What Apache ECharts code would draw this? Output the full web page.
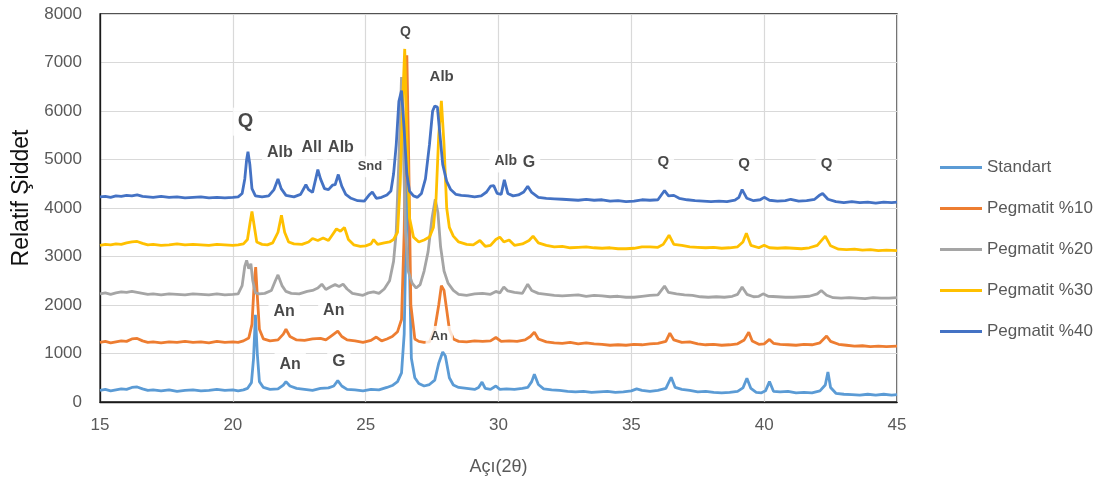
<!DOCTYPE html>
<html>
<head>
<meta charset="utf-8">
<script src="https://cdn.jsdelivr.net/npm/echarts@6/dist/echarts.min.js"></script>
<style>
html,body{margin:0;padding:0;background:#fff;}
#chart{width:1100px;height:484px;}
</style>
</head>
<body>
<div id="chart"></div>
<script>
// ---- data ----
var seriesNames = ['Standart', 'Pegmatit %10', 'Pegmatit %20', 'Pegmatit %30', 'Pegmatit %40'];
var xTicks = [15, 20, 25, 30, 35, 40, 45];
var yTicks = [0, 1000, 2000, 3000, 4000, 5000, 6000, 7000, 8000];

var standart = [[15.0,240],[15.2,260],[15.4,230],[15.6,250],[15.8,270],[16.0,260],[16.2,300],[16.4,310],[16.6,270],[16.8,240],[17.0,250],[17.3,230],[17.6,250],[17.9,220],[18.2,240],[18.5,250],[18.8,230],[19.1,240],[19.4,260],[19.7,240],[20.0,250],[20.2,230],[20.4,250],[20.55,280],[20.7,400],[20.78,900],[20.85,1800],[20.92,1000],[21.0,420],[21.15,300],[21.4,260],[21.7,270],[21.9,350],[22.0,420],[22.15,330],[22.4,280],[22.7,260],[23.0,240],[23.3,280],[23.6,290],[23.8,330],[23.95,440],[24.1,330],[24.3,260],[24.6,250],[24.9,230],[25.2,260],[25.5,250],[25.8,300],[26.0,340],[26.2,420],[26.35,600],[26.45,1400],[26.52,3500],[26.58,5600],[26.64,3000],[26.72,900],[26.85,500],[27.0,380],[27.2,330],[27.4,360],[27.6,450],[27.75,800],[27.9,1030],[28.0,950],[28.15,500],[28.3,350],[28.5,300],[28.8,280],[29.1,260],[29.25,300],[29.38,410],[29.5,280],[29.7,260],[29.9,330],[30.05,260],[30.3,270],[30.6,260],[30.9,280],[31.1,300],[31.25,420],[31.35,570],[31.5,360],[31.7,270],[32.0,250],[32.3,240],[32.6,220],[32.9,210],[33.2,220],[33.5,200],[33.8,210],[34.1,220],[34.4,200],[34.7,210],[35.0,230],[35.2,270],[35.4,240],[35.7,220],[36.0,240],[36.3,280],[36.5,510],[36.65,300],[36.9,260],[37.2,240],[37.5,210],[37.8,220],[38.1,200],[38.4,190],[38.7,200],[39.0,220],[39.2,290],[39.35,490],[39.5,280],[39.7,200],[39.9,190],[40.05,230],[40.2,420],[40.35,220],[40.6,210],[40.9,220],[41.2,190],[41.5,200],[41.8,190],[42.1,230],[42.3,350],[42.4,620],[42.5,300],[42.7,180],[43.0,160],[43.3,150],[43.6,140],[43.9,160],[44.2,140],[44.5,160],[44.8,140],[45.0,150]];

var pegmatit10 = [[15.0,1230],[15.2,1250],[15.4,1220],[15.6,1240],[15.8,1260],[16.0,1250],[16.2,1300],[16.4,1310],[16.6,1260],[16.8,1230],[17.0,1240],[17.3,1220],[17.6,1240],[17.9,1230],[18.2,1250],[18.5,1230],[18.8,1240],[19.1,1220],[19.4,1250],[19.7,1230],[20.0,1240],[20.2,1230],[20.4,1260],[20.6,1320],[20.72,1600],[20.8,2400],[20.86,2780],[20.92,2200],[21.0,1500],[21.15,1300],[21.4,1260],[21.7,1280],[21.9,1400],[22.0,1500],[22.15,1350],[22.4,1280],[22.7,1270],[23.0,1300],[23.3,1310],[23.5,1280],[23.7,1360],[23.95,1460],[24.1,1350],[24.3,1280],[24.6,1260],[24.9,1230],[25.2,1270],[25.4,1340],[25.6,1260],[25.8,1300],[26.0,1350],[26.2,1450],[26.35,1700],[26.45,3500],[26.55,7150],[26.62,5000],[26.7,2000],[26.85,1300],[27.0,1250],[27.2,1230],[27.4,1240],[27.6,1500],[27.75,2000],[27.85,2400],[27.95,2300],[28.05,1900],[28.15,1500],[28.3,1300],[28.5,1250],[28.8,1240],[29.1,1260],[29.4,1250],[29.7,1260],[29.9,1330],[30.1,1250],[30.4,1260],[30.7,1250],[31.0,1280],[31.2,1350],[31.35,1440],[31.5,1300],[31.8,1240],[32.1,1220],[32.4,1210],[32.7,1230],[33.0,1200],[33.3,1220],[33.6,1200],[33.9,1190],[34.2,1170],[34.5,1180],[34.8,1170],[35.1,1190],[35.4,1180],[35.7,1200],[36.0,1210],[36.3,1250],[36.45,1420],[36.6,1280],[36.9,1230],[37.2,1240],[37.5,1200],[37.8,1180],[38.1,1190],[38.4,1170],[38.7,1180],[39.0,1200],[39.25,1280],[39.42,1440],[39.55,1260],[39.8,1190],[40.0,1200],[40.2,1290],[40.35,1210],[40.6,1190],[40.9,1180],[41.2,1170],[41.5,1190],[41.8,1180],[42.1,1220],[42.35,1360],[42.5,1250],[42.8,1190],[43.1,1170],[43.4,1150],[43.7,1160],[44.0,1140],[44.3,1150],[44.6,1140],[45.0,1150]];

var pegmatit20 = [[15.0,2230],[15.2,2250],[15.4,2220],[15.6,2250],[15.8,2270],[16.0,2260],[16.2,2280],[16.4,2260],[16.6,2240],[16.8,2220],[17.0,2230],[17.3,2210],[17.6,2230],[17.9,2220],[18.2,2210],[18.5,2230],[18.8,2220],[19.1,2210],[19.4,2230],[19.7,2210],[20.0,2220],[20.2,2230],[20.35,2400],[20.45,2800],[20.52,2920],[20.6,2750],[20.68,2850],[20.75,2500],[20.85,2250],[21.0,2230],[21.2,2240],[21.45,2300],[21.6,2500],[21.7,2620],[21.85,2400],[22.0,2280],[22.2,2240],[22.5,2230],[22.8,2280],[23.0,2300],[23.2,2350],[23.35,2430],[23.5,2320],[23.7,2380],[23.85,2420],[24.0,2380],[24.15,2430],[24.3,2330],[24.5,2240],[24.7,2220],[24.9,2200],[25.1,2250],[25.3,2270],[25.5,2240],[25.7,2330],[25.9,2500],[26.05,2900],[26.15,3500],[26.25,5000],[26.35,6700],[26.42,5200],[26.5,3500],[26.6,2700],[26.75,2450],[26.9,2350],[27.05,2420],[27.2,2700],[27.35,3100],[27.5,3800],[27.62,4180],[27.72,3900],[27.82,3200],[27.95,2700],[28.1,2450],[28.3,2300],[28.5,2220],[28.8,2200],[29.1,2230],[29.4,2240],[29.7,2220],[29.9,2280],[30.05,2250],[30.2,2370],[30.35,2290],[30.6,2260],[30.9,2240],[31.1,2430],[31.25,2300],[31.5,2240],[31.8,2220],[32.1,2200],[32.4,2190],[32.7,2200],[33.0,2210],[33.3,2180],[33.6,2200],[33.9,2190],[34.2,2170],[34.5,2180],[34.8,2160],[35.1,2160],[35.4,2180],[35.7,2200],[36.0,2210],[36.25,2390],[36.4,2260],[36.7,2230],[37.0,2210],[37.3,2200],[37.6,2170],[37.9,2160],[38.2,2170],[38.5,2160],[38.8,2180],[39.0,2220],[39.17,2370],[39.35,2220],[39.6,2170],[39.8,2180],[39.96,2230],[40.15,2180],[40.5,2170],[40.8,2160],[41.1,2160],[41.4,2170],[41.7,2180],[42.0,2230],[42.15,2300],[42.35,2200],[42.6,2150],[42.9,2140],[43.2,2150],[43.5,2140],[43.8,2130],[44.1,2150],[44.4,2140],[44.7,2140],[45.0,2150]];

var pegmatit30 = [[15.0,3230],[15.2,3250],[15.4,3240],[15.6,3260],[15.8,3250],[16.0,3280],[16.2,3300],[16.4,3310],[16.6,3270],[16.8,3240],[17.0,3250],[17.3,3230],[17.6,3240],[17.9,3260],[18.2,3240],[18.5,3250],[18.8,3240],[19.1,3230],[19.4,3250],[19.7,3240],[20.0,3230],[20.2,3240],[20.4,3260],[20.55,3350],[20.65,3700],[20.72,3930],[20.8,3650],[20.9,3300],[21.1,3250],[21.3,3240],[21.5,3280],[21.7,3500],[21.83,3850],[21.95,3500],[22.1,3300],[22.3,3260],[22.6,3250],[22.85,3300],[23.0,3370],[23.2,3330],[23.4,3380],[23.6,3330],[23.75,3450],[23.9,3570],[24.05,3520],[24.2,3600],[24.35,3350],[24.55,3240],[24.8,3210],[25.0,3220],[25.2,3260],[25.3,3350],[25.45,3250],[25.7,3280],[25.9,3300],[26.05,3350],[26.2,3500],[26.3,4500],[26.4,6300],[26.47,7280],[26.55,5500],[26.65,3800],[26.8,3400],[27.0,3300],[27.2,3340],[27.4,3400],[27.55,3600],[27.65,4200],[27.75,5500],[27.85,6210],[27.95,5300],[28.05,4000],[28.15,3600],[28.3,3420],[28.5,3300],[28.8,3250],[29.05,3240],[29.3,3330],[29.5,3210],[29.7,3230],[29.9,3350],[30.05,3400],[30.2,3300],[30.4,3340],[30.6,3230],[30.9,3260],[31.15,3330],[31.3,3420],[31.5,3280],[31.8,3230],[32.1,3200],[32.4,3210],[32.7,3180],[33.0,3190],[33.3,3200],[33.6,3180],[33.9,3170],[34.2,3180],[34.5,3160],[34.8,3160],[35.1,3170],[35.4,3200],[35.7,3200],[36.0,3190],[36.2,3250],[36.42,3440],[36.6,3250],[36.9,3230],[37.2,3200],[37.5,3190],[37.8,3180],[38.1,3190],[38.4,3170],[38.7,3180],[39.0,3200],[39.2,3300],[39.33,3480],[39.5,3230],[39.8,3180],[40.0,3230],[40.2,3180],[40.5,3170],[40.8,3180],[41.1,3170],[41.4,3160],[41.7,3180],[42.0,3230],[42.3,3420],[42.5,3220],[42.8,3150],[43.1,3140],[43.4,3150],[43.7,3130],[44.0,3140],[44.3,3120],[44.6,3130],[45.0,3120]];

var pegmatit40 = [[15.0,4230],[15.2,4240],[15.4,4220],[15.6,4250],[15.8,4240],[16.0,4260],[16.2,4250],[16.4,4270],[16.6,4240],[16.8,4230],[17.0,4220],[17.3,4240],[17.6,4220],[17.9,4230],[18.2,4210],[18.5,4220],[18.8,4230],[19.1,4210],[19.4,4220],[19.7,4210],[20.0,4220],[20.2,4230],[20.35,4300],[20.45,4600],[20.52,5000],[20.57,5160],[20.64,4900],[20.72,4400],[20.85,4250],[21.1,4230],[21.35,4250],[21.55,4380],[21.7,4600],[21.82,4400],[22.0,4260],[22.3,4230],[22.55,4280],[22.75,4480],[22.85,4380],[23.0,4320],[23.12,4600],[23.2,4790],[23.3,4600],[23.45,4400],[23.6,4380],[23.75,4470],[23.85,4480],[23.97,4690],[24.1,4450],[24.25,4280],[24.45,4200],[24.7,4150],[24.95,4140],[25.15,4280],[25.25,4330],[25.4,4200],[25.6,4220],[25.8,4270],[25.95,4350],[26.05,4700],[26.15,5300],[26.25,6200],[26.35,6420],[26.45,5600],[26.55,4700],[26.65,4350],[26.8,4250],[26.95,4220],[27.1,4300],[27.25,4600],[27.4,5300],[27.52,6000],[27.6,6100],[27.7,6080],[27.78,5600],[27.9,4900],[28.05,4550],[28.2,4380],[28.4,4280],[28.6,4260],[28.85,4250],[29.1,4230],[29.35,4250],[29.55,4330],[29.7,4450],[29.82,4460],[29.95,4300],[30.1,4280],[30.22,4580],[30.35,4300],[30.55,4250],[30.75,4270],[30.95,4330],[31.1,4450],[31.25,4320],[31.5,4220],[31.8,4200],[32.1,4190],[32.4,4180],[32.7,4170],[33.0,4160],[33.3,4180],[33.6,4160],[33.9,4170],[34.2,4140],[34.5,4150],[34.8,4130],[35.1,4140],[35.4,4170],[35.7,4160],[36.0,4170],[36.25,4360],[36.4,4250],[36.6,4260],[36.8,4200],[37.1,4170],[37.4,4150],[37.7,4140],[38.0,4130],[38.3,4140],[38.6,4130],[38.9,4160],[39.05,4220],[39.17,4380],[39.35,4200],[39.6,4150],[39.85,4170],[40.0,4220],[40.2,4160],[40.5,4140],[40.8,4150],[41.0,4180],[41.3,4140],[41.6,4150],[41.9,4180],[42.1,4270],[42.2,4300],[42.4,4180],[42.7,4130],[43.0,4110],[43.3,4130],[43.6,4110],[43.9,4120],[44.2,4100],[44.5,4120],[44.8,4110],[45.0,4120]];

// peak annotations (text and where it sits, in data units)
var annText = ['Q', 'Alb', 'All', 'Alb', 'Snd', 'Q', 'Alb', 'Alb', 'G', 'Q', 'Q', 'Q', 'An', 'An', 'An', 'G', 'An'];
var annX    = [20.48, 21.77, 22.97, 24.07, 25.16, 26.5, 27.86, 30.27, 31.15, 36.2, 39.24, 42.35, 21.93, 23.8, 22.16, 23.99, 27.77];
var annY    = [5780, 5140, 5245, 5240, 4850, 7620, 6710, 4960, 4945, 4960, 4920, 4920, 1873, 1887, 776, 844, 1352];

// ---- styles ----
var colors = ['#5B9BD5', '#ED7D31', '#A5A5A5', '#FFC000', '#4472C4'];
var annFont = [20, 16, 16, 16, 13, 14, 15, 14, 16, 15, 15, 15, 16, 16, 16, 17, 13];
var FONT = "'Liberation Sans', Arial, sans-serif";

var allData = [standart, pegmatit10, pegmatit20, pegmatit30, pegmatit40];
var series = allData.map(function (d, i) {
  return {
    name: seriesNames[i],
    type: 'line',
    data: d,
    symbol: 'none',
    smooth: false,
    lineStyle: { width: 2.8, color: colors[i] },
    itemStyle: { color: colors[i] },
    z: 2 + i
  };
});

var annData = annText.map(function (t, i) {
  return {
    value: [annX[i], annY[i]],
    label: { formatter: t, fontSize: annFont[i] }
  };
});
series.push({
  type: 'scatter',
  name: 'labels',
  data: annData,
  symbolSize: 0,
  silent: true,
  z: 20,
  label: {
    show: true,
    position: 'inside',
    color: '#1a1a1a',
    fontFamily: FONT,
    fontWeight: 'bold',
    backgroundColor: '#ffffff',
    padding: [4, 5]
  }
});

var chart = echarts.init(document.getElementById('chart'), null, { renderer: 'canvas' });
chart.setOption({
  animation: false,
  backgroundColor: '#ffffff',
  grid: {
    left: 100, right: 203, top: 14, bottom: 82,
    show: true, borderColor: '#1a1a1a', borderWidth: 1.3, backgroundColor: 'transparent'
  },
  legend: {
    data: seriesNames,
    orient: 'vertical',
    left: 940,
    top: 159,
    padding: 0,
    icon: 'rect',
    itemWidth: 42,
    itemHeight: 3,
    itemGap: 24,
    textStyle: { fontFamily: FONT, fontSize: 17, color: '#595959' }
  },
  xAxis: {
    type: 'value',
    min: xTicks[0],
    max: xTicks[xTicks.length - 1],
    interval: xTicks[1] - xTicks[0],
    name: 'Açı(2θ)',
    nameLocation: 'middle',
    nameGap: 56,
    nameTextStyle: { fontFamily: FONT, fontSize: 18, color: '#595959' },
    axisLine: { show: true, lineStyle: { color: '#1a1a1a', width: 1.3 } },
    axisTick: { show: false },
    axisLabel: { fontFamily: FONT, fontSize: 17, color: '#595959', margin: 15 },
    splitLine: { show: true, lineStyle: { color: '#d9d9d9', width: 1.2 } }
  },
  yAxis: {
    type: 'value',
    min: yTicks[0],
    max: yTicks[yTicks.length - 1],
    interval: yTicks[1] - yTicks[0],
    name: 'Relatif Şiddet',
    nameLocation: 'middle',
    nameGap: 60,
    nameRotate: 90,
    nameTextStyle: { fontFamily: FONT, fontSize: 23, color: '#111111', padding: [0, 0, 0, 20] },
    axisLine: { show: true, lineStyle: { color: '#1a1a1a', width: 1.3 } },
    axisTick: { show: false },
    axisLabel: {
      fontFamily: FONT, fontSize: 17, color: '#595959', margin: 18,
      formatter: function (v) { return String(v); }
    },
    splitLine: { show: true, lineStyle: { color: '#d9d9d9', width: 1.2 } }
  },
  series: series
});
</script>
</body>
</html>
